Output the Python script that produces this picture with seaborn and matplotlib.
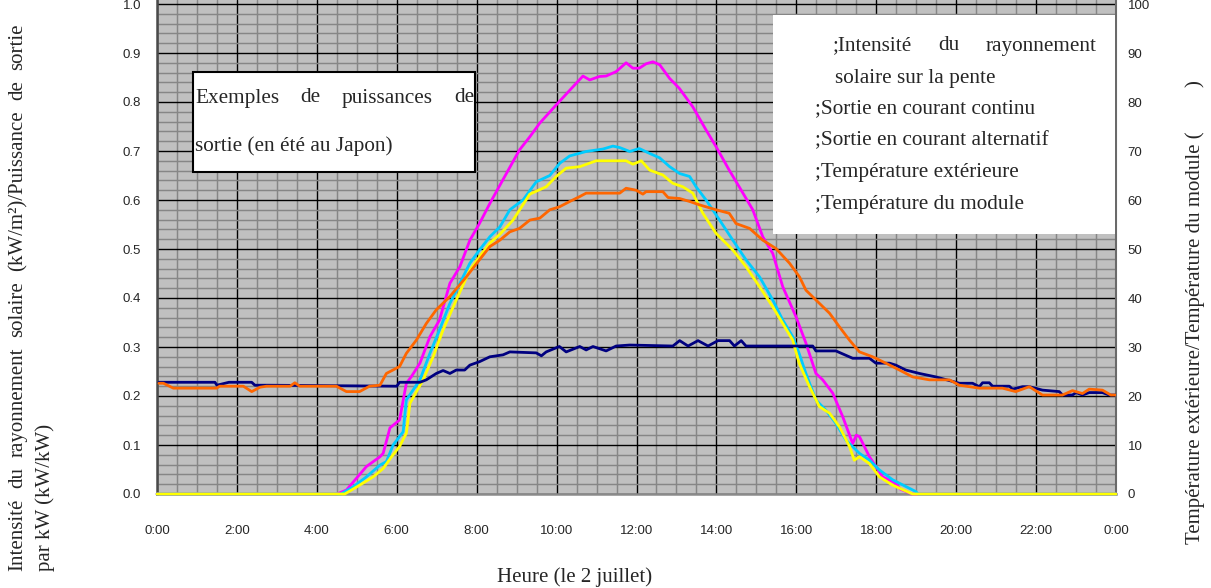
import matplotlib
matplotlib.use("Agg")
import matplotlib.pyplot as plt
import seaborn as sns
import pandas as pd
from matplotlib.ticker import MultipleLocator, FixedLocator, FixedFormatter
from matplotlib.patches import Rectangle

# ---------------- data ----------------
irr_h = [0, 4.5, 4.74, 4.99, 5.24, 5.58, 5.66, 5.83, 6.07, 6.24, 6.37, 6.58, 6.83, 7.07, 7.33,
         7.58, 7.83, 8.07, 8.33, 8.58, 9.07, 9.33, 9.58, 9.99, 10.33, 10.66, 10.83, 11.07, 11.24,
         11.49, 11.74, 11.91, 12.07, 12.24, 12.41, 12.58, 12.83, 13.07, 13.41, 13.74, 13.99, 14.32,
         14.57, 14.91, 15.16, 15.41, 15.66, 15.99, 16.24, 16.49, 16.66, 16.91, 17.16, 17.41, 17.5,
         17.58, 17.83, 18.16, 18.49, 18.6, 18.9, 24]
irr_v = [0, 0, 0.008, 0.032, 0.056, 0.076, 0.083, 0.135, 0.151, 0.226, 0.240, 0.267, 0.321, 0.355, 0.43,
         0.464, 0.518, 0.552, 0.593, 0.630, 0.702, 0.729, 0.757, 0.794, 0.824, 0.853, 0.845, 0.852, 0.853,
         0.862, 0.880, 0.869, 0.869, 0.878, 0.882, 0.876, 0.848, 0.828, 0.790, 0.743, 0.709, 0.661,
         0.627, 0.580, 0.525, 0.491, 0.423, 0.362, 0.308, 0.246, 0.233, 0.206, 0.158, 0.103, 0.120,
         0.117, 0.076, 0.035, 0.022, 0.010, 0, 0]

dc_h = [0, 4.6, 4.9, 5.24, 5.58, 5.74, 5.91, 6.16, 6.24, 6.58, 6.83, 7.07, 7.33, 7.83, 8.07, 8.33,
        8.58, 8.83, 9.16, 9.49, 9.83, 10.08, 10.33, 10.74, 11.16, 11.41, 11.58, 11.83, 12.07, 12.33,
        12.58, 12.83, 13.08, 13.33, 13.49, 13.74, 14.08, 14.41, 14.74, 15.08, 15.41, 15.66, 15.91,
        16.07, 16.24, 16.49, 16.74, 16.99, 17.24, 17.58, 17.83, 18.08, 18.41, 18.99, 19.05, 24]
dc_v = [0, 0, 0.014, 0.035, 0.059, 0.066, 0.100, 0.127, 0.192, 0.233, 0.287, 0.335, 0.389, 0.471, 0.498, 0.525,
        0.545, 0.580, 0.600, 0.637, 0.650, 0.675, 0.690, 0.699, 0.704, 0.710, 0.707, 0.699, 0.705, 0.695,
        0.686, 0.668, 0.654, 0.648, 0.627, 0.600, 0.559, 0.518, 0.478, 0.443, 0.396, 0.355, 0.321,
        0.287, 0.246, 0.192, 0.171, 0.144, 0.110, 0.083, 0.069, 0.049, 0.029, 0.005, 0, 0]

ac_h = [0, 4.7, 5.07, 5.41, 5.66, 5.87, 6.07, 6.24, 6.33, 6.66, 6.91, 7.16, 7.49, 7.83, 8.07, 8.33,
        8.58, 8.91, 9.33, 9.74, 9.99, 10.24, 10.58, 10.99, 11.74, 11.91, 12.12, 12.33, 12.66, 12.91,
        13.16, 13.41, 13.66, 13.99, 14.41, 14.74, 15.08, 15.41, 15.66, 15.91, 16.07, 16.33, 16.58,
        16.83, 17.08, 17.33, 17.45, 17.58, 17.83, 18.08, 18.41, 18.91, 24]
ac_v = [0, 0, 0.018, 0.035, 0.052, 0.076, 0.097, 0.124, 0.185, 0.233, 0.280, 0.335, 0.396, 0.457, 0.484, 0.512,
        0.530, 0.559, 0.612, 0.627, 0.648, 0.665, 0.668, 0.680, 0.680, 0.673, 0.680, 0.661, 0.651, 0.634,
        0.627, 0.614, 0.573, 0.532, 0.498, 0.464, 0.423, 0.382, 0.348, 0.314, 0.267, 0.219, 0.178,
        0.165, 0.137, 0.097, 0.069, 0.076, 0.062, 0.035, 0.018, 0, 0]

mod_h = [0.05, 0.16, 0.41, 1.49, 1.57, 2.16, 2.37, 2.58, 2.74, 3.33, 3.45, 3.57, 4.49, 4.74, 5.07, 5.32,
         5.58, 5.74, 6.07, 6.24, 6.49, 6.74, 6.99, 7.33, 7.74, 8.07, 8.33, 8.58, 8.83, 9.07, 9.33, 9.58,
         9.83, 10.07, 10.33, 10.58, 10.74, 11.58, 11.74, 11.99, 12.16, 12.24, 12.66, 12.79, 13.08, 13.33,
         13.58, 13.99, 14.32, 14.49, 14.83, 15.16, 15.49, 15.83, 16.08, 16.24, 16.49, 16.83, 17.08, 17.33,
         17.58, 17.91, 18.24, 18.58, 18.91, 19.33, 19.83, 20.08, 20.58, 21.16, 21.49, 21.83, 22.16, 22.66,
         22.91, 23.16, 23.33, 23.66, 23.87, 23.98]
mod_v = [22.6, 22.6, 21.6, 21.6, 22.0, 22.0, 20.9, 21.8, 22.0, 22.0, 22.7, 22.0, 22.0, 20.9, 20.9, 22.0,
         22.2, 24.6, 26.0, 28.7, 31.4, 34.8, 37.6, 40.3, 44.3, 47.8, 50.5, 51.8, 53.5, 54.2, 55.9, 56.3,
         58.0, 58.6, 59.7, 60.7, 61.4, 61.4, 62.4, 62.0, 61.2, 61.7, 61.7, 60.5, 60.3, 59.7,
         59.0, 58.0, 57.3, 55.2, 54.2, 51.8, 50.1, 47.1, 44.3, 41.6, 39.6, 36.9, 34.1, 31.4,
         29.0, 28.0, 26.7, 25.3, 23.9, 23.3, 23.3, 22.2, 21.6, 21.6, 20.9, 21.9, 20.2, 20.2,
         21.1, 20.5, 21.4, 21.2, 20.2, 20.2]

ext_h = [0.05, 1.45, 1.5, 1.8, 2.37, 2.45, 2.8, 6.0, 6.07, 6.58, 6.74, 6.99, 7.16, 7.33, 7.49, 7.7, 7.83,
         8.07, 8.33, 8.66, 8.83, 9.49, 9.62, 9.74, 10.07, 10.24, 10.58, 10.74, 10.91, 11.24, 11.49, 11.83,
         12.91, 13.08, 13.29, 13.54, 13.79, 14.04, 14.33, 14.45, 14.62, 14.74, 16.41, 16.49, 16.99, 17.41,
         17.83, 17.99, 18.33, 18.49, 18.74, 19.08, 19.49, 20.08, 20.41, 20.58, 20.66, 20.83, 20.91, 21.33,
         21.41, 21.66, 21.83, 22.16, 22.58, 22.66, 22.91, 23.0, 23.16, 23.33, 23.66, 23.83, 23.98]
ext_v = [22.8, 22.8, 22.2, 22.8, 22.8, 22.2, 22.2, 22.0, 22.8, 22.8, 23.3, 24.6, 25.2, 24.6, 25.3, 25.3, 26.3,
         27.0, 28.0, 28.4, 29.0, 28.8, 28.2, 29.0, 30.1, 29.0, 30.1, 29.4, 30.1, 29.2, 30.2, 30.4,
         30.2, 31.3, 30.2, 31.3, 30.2, 31.3, 31.3, 30.2, 31.3, 30.2, 30.2, 29.2, 29.2, 27.7,
         27.7, 26.7, 26.7, 26.3, 25.3, 24.6, 23.9, 22.6, 22.6, 21.9, 22.7, 22.7, 22.0, 22.0,
         21.4, 21.9, 21.9, 21.2, 20.9, 20.2, 20.2, 20.7, 20.2, 20.7, 20.7, 20.2, 20.2]

x_ticks = [0, 2, 4, 6, 8, 10, 12, 14, 16, 18, 20, 22, 24]
x_tick_labels = ["0:00", "2:00", "4:00", "6:00", "8:00", "10:00", "12:00", "14:00",
                 "16:00", "18:00", "20:00", "22:00", "0:00"]
left_ticks = [0.0, 0.1, 0.2, 0.3, 0.4, 0.5, 0.6, 0.7, 0.8, 0.9, 1.0]
right_ticks = [0, 10, 20, 30, 40, 50, 60, 70, 80, 90, 100]

legend_lines = [";Sortie en courant continu", ";Sortie en courant alternatif",
                ";Température extérieure", ";Température du module"]

# ---------------- style ----------------
sns.set_theme(style="white")
plt.rcParams["font.family"] = ["Liberation Serif", "DejaVu Sans"]
tick_fam = ["Liberation Sans", "DejaVu Sans"]

W, H = 1211, 588
fig = plt.figure(figsize=(W / 100, H / 100), dpi=100)
fig.patch.set_facecolor("white")


def fx(x):
    return x / W


def fy(y):
    return 1 - y / H


ax = fig.add_axes([fx(157), fy(494), (1116 - 157) / W, 494 / H])
ax.set_facecolor("#C0C0C0")
ax.set_xlim(0, 24)
ax.set_ylim(0, 494 / 490)

ax.xaxis.set_major_locator(FixedLocator(x_ticks))
ax.xaxis.set_major_formatter(FixedFormatter(x_tick_labels))
ax.xaxis.set_minor_locator(MultipleLocator(0.5))
ax.yaxis.set_major_locator(FixedLocator(left_ticks))
ax.yaxis.set_major_formatter(FixedFormatter([f"{v:.1f}" for v in left_ticks]))
ax.yaxis.set_minor_locator(MultipleLocator(0.02))
ax.grid(which="minor", color="#868686", lw=1.05)
ax.grid(which="major", color="#000000", lw=1.0)
ax.set_axisbelow(True)
ax.tick_params(which="both", length=0)
ax.tick_params(axis="x", pad=22, labelsize=9.5)
ax.tick_params(axis="y", pad=11.5, labelsize=9.5)
for lab in ax.get_xticklabels() + ax.get_yticklabels():
    lab.set_family(tick_fam)
ax.spines["top"].set_visible(False)
ax.spines["left"].set_color("#4a4a4a")
ax.spines["left"].set_linewidth(1.8)
ax.spines["bottom"].set_color("#8a8a8a")
ax.spines["bottom"].set_linewidth(1.8)
ax.spines["right"].set_color("#6a6a6a")
ax.spines["right"].set_linewidth(1.5)

lw = 2.0
for hh, vv, col in [(irr_h, irr_v, "#FF00FF"), (dc_h, dc_v, "#00CCFF"), (ac_h, ac_v, "#FFFF00")]:
    df = pd.DataFrame({"h": hh, "v": vv})
    sns.lineplot(data=df, x="h", y="v", ax=ax, color=col, lw=lw, estimator=None, sort=False,
                 clip_on=False, zorder=3)
ax.set_xlabel("")
ax.set_ylabel("")

ax2 = ax.twinx()
ax2.set_ylim(0, 100 * 494 / 490)
ax2.yaxis.set_major_locator(FixedLocator(right_ticks))
ax2.yaxis.set_major_formatter(FixedFormatter([str(v) for v in right_ticks]))
ax2.tick_params(which="both", length=0, pad=8.5, labelsize=9.5)
for lab in ax2.get_yticklabels():
    lab.set_family(tick_fam)
for s in ax2.spines.values():
    s.set_visible(False)
for hh, vv, col in [(ext_h, ext_v, "#000080"), (mod_h, mod_v, "#FF6600")]:
    df = pd.DataFrame({"h": hh, "t": vv})
    sns.lineplot(data=df, x="h", y="t", ax=ax2, color=col, lw=lw, estimator=None, sort=False, zorder=3)
ax2.set_xlabel("")
ax2.set_ylabel("")
ax2.grid(False)

# ---------------- boxes ----------------
fig.add_artist(Rectangle((fx(193), fy(172)), (475 - 193) / W, 100 / H, transform=fig.transFigure,
                         facecolor="white", edgecolor="black", lw=1.5, zorder=5))
fig.add_artist(Rectangle((fx(773), fy(234)), (1115 - 773) / W, (234 - 15) / H, transform=fig.transFigure,
                         facecolor="white", edgecolor="none", zorder=5))

box_fs = 15.3
renderer = fig.canvas.get_renderer()


def justify(words, start, end, cross, fs, vertical=False):
    texts = []
    for w in words:
        if vertical:
            t = fig.text(fx(cross), 0.5, w, rotation=90, ha="center", va="center", fontsize=fs, zorder=6)
        else:
            t = fig.text(0.5, fy(cross), w, ha="center", va="center", fontsize=fs, zorder=6)
        texts.append(t)
    sizes = []
    for t in texts:
        bb = t.get_window_extent(renderer)
        sizes.append(bb.height if vertical else bb.width)
    gap = (abs(end - start) - sum(sizes)) / (len(words) - 1)
    pos = start
    for t, s in zip(texts, sizes):
        if vertical:
            c = pos - s / 2
            t.set_position((fx(cross), fy(c)))
            pos -= s + gap
        else:
            c = pos + s / 2
            t.set_position((fx(c), fy(cross)))
            pos += s + gap


justify(["Exemples", "de", "puissances", "de"], 195, 474, 98, box_fs)
fig.text(fx(195), fy(146), "sortie (en été au Japon)", ha="left", va="center", fontsize=box_fs, zorder=6)

justify([";Intensité", "du", "rayonnement"], 833, 1097, 46, box_fs)
fig.text(fx(835), fy(78), "solaire sur la pente", ha="left", va="center", fontsize=box_fs, zorder=6)
for i, s in enumerate(legend_lines):
    fig.text(fx(815), fy(109 + i * 31.7), s, ha="left", va="center", fontsize=box_fs, zorder=6)

# ---------------- axis labels ----------------
lab_fs = 15
justify(["Intensité", "du", "rayonnement", "solaire", "(kW/m²)/Puissance", "de", "sortie"],
        571, 23, 18, lab_fs, vertical=True)
fig.text(fx(45), fy(571), "par kW (kW/kW)", rotation=90, ha="center", va="bottom", fontsize=lab_fs)
fig.text(fx(1195), fy(544), "Température extérieure/Température du module (", rotation=90,
         ha="center", va="bottom", fontsize=lab_fs)
fig.text(fx(1195), fy(80), ")", rotation=90, ha="center", va="top", fontsize=lab_fs)
fig.text(fx(497), fy(577), "Heure (le 2 juillet)", ha="left", va="center", fontsize=lab_fs)

fig.savefig("out.png", dpi=100, facecolor="white")
